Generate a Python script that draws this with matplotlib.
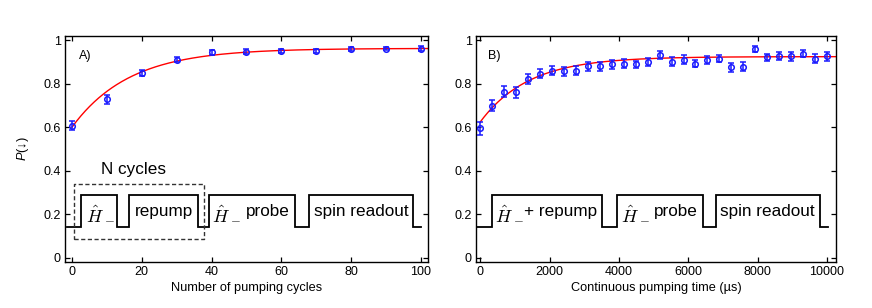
import numpy as np
import matplotlib
matplotlib.use("Agg")
import matplotlib.pyplot as plt

plt.rcParams['font.family'] = ['Liberation Sans', 'DejaVu Sans']
plt.rcParams['mathtext.fontset'] = 'custom'
plt.rcParams['mathtext.rm'] = 'Liberation Sans'
plt.rcParams['mathtext.it'] = 'Liberation Sans:italic'

# ---------------- data ----------------
cycles_A = [0, 10, 20, 30, 40, 50, 60, 70, 80, 90, 100]
P_A = [0.608, 0.728, 0.850, 0.910, 0.944, 0.947, 0.950, 0.952, 0.960, 0.962, 0.962]
err_A = [0.02, 0.02, 0.015, 0.012, 0.01, 0.012, 0.01, 0.01, 0.01, 0.008, 0.01]
fit_A = dict(y0=0.600, yinf=0.963, tau=16.5)

time_B = list(np.linspace(0, 10000, 30))
P_B = [0.595, 0.699, 0.763, 0.760, 0.823, 0.847, 0.860, 0.858, 0.860, 0.881,
       0.881, 0.890, 0.893, 0.889, 0.901, 0.931, 0.901, 0.911, 0.893, 0.910,
       0.916, 0.875, 0.878, 0.959, 0.921, 0.928, 0.927, 0.939, 0.915, 0.927]
err_B = [0.03, 0.025, 0.025, 0.025, 0.022, 0.022, 0.02, 0.02, 0.02, 0.02,
         0.02, 0.02, 0.02, 0.018, 0.018, 0.018, 0.02, 0.02, 0.018, 0.02,
         0.018, 0.02, 0.02, 0.015, 0.018, 0.018, 0.02, 0.018, 0.02, 0.02]
fit_B = dict(y0=0.625, yinf=0.925, tau=1400)

yticks = [0, 0.2, 0.4, 0.6, 0.8, 1]
ytick_labels = ['0', '0.2', '0.4', '0.6', '0.8', '1']
xticks_A = [0, 20, 40, 60, 80, 100]
xticks_B = [0, 2000, 4000, 6000, 8000, 10000]

# pulse sequences: edges of the step waveform
pulse_A = [-1.3, 2.7, 12.9, 16.3, 36.1, 39.3, 63.9, 68.0, 97.8, 100.0]
pulse_B = [-106, 327, 3523, 3937, 6430, 6805, 9808, 10029]
pulse_lo, pulse_hi = 0.14, 0.29

# ---------------- figure ----------------
fig = plt.figure(figsize=(8.72, 3.08), dpi=100)
axA = fig.add_axes([0.0745, 0.1494, 0.4163, 0.7338])
axB = fig.add_axes([0.5459, 0.1494, 0.4128, 0.7338])


def pulse_line(ax, edges):
    xs, ys = [edges[0]], [pulse_lo]
    level = pulse_lo
    for e in edges[1:-1]:
        xs += [e, e]
        new = pulse_hi if level == pulse_lo else pulse_lo
        ys += [level, new]
        level = new
    xs.append(edges[-1])
    ys.append(level)
    ax.plot(xs, ys, color='black', lw=1.3, solid_joinstyle='miter')


def fitcurve(x, p):
    x = np.asarray(x, dtype=float)
    return p['yinf'] - (p['yinf'] - p['y0']) * np.exp(-x / p['tau'])


for ax, x, y, e, fit, xmax, xt in [
        (axA, cycles_A, P_A, err_A, fit_A, 102, xticks_A),
        (axB, time_B, P_B, err_B, fit_B, 10260, xticks_B)]:
    xf = np.linspace(0, xmax, 400)
    ax.plot(xf, fitcurve(xf, fit), color='red', lw=1.0, zorder=2)
    ax.errorbar(x, y, yerr=e, fmt='o', mfc='none', mec='#1a1aff', ms=4,
                mew=1.1, ecolor='#1a1aff', elinewidth=1.1, capsize=2.2,
                capthick=1.1, zorder=3)
    ax.set_ylim(-0.02, 1.02)
    ax.set_yticks(yticks)
    ax.set_yticklabels(ytick_labels)
    ax.set_xticks(xt)
    ax.tick_params(direction='in', length=3.5, width=0.9, top=True,
                   right=True, labelsize=9, pad=3)
    for s in ax.spines.values():
        s.set_linewidth(1.0)

axA.set_xlim(-2, 102)
axB.set_xlim(-125, 10260)

axA.set_xlabel('Number of pumping cycles', fontsize=9.2, labelpad=3)
axB.set_xlabel('Continuous pumping time (\u00b5s)', fontsize=9.2, labelpad=3)
axA.set_ylabel('$P$(\u2193)', fontsize=9.2, labelpad=9)

axA.text(2, 0.93, 'A)', fontsize=9, va='center', ha='left')
axB.text(212, 0.93, 'B)', fontsize=9, va='center', ha='left')

# pulse diagrams
pulse_line(axA, pulse_A)
pulse_line(axB, pulse_B)

axA.plot([0.5, 37.8, 37.8, 0.5, 0.5], [0.087, 0.087, 0.339, 0.339, 0.087],
         color='#333333', lw=1.0, ls=(0, (3, 1.8)))
axA.text(8.4, 0.405, 'N cycles', fontsize=12.3, va='center', ha='left')

txt = 12.3
hs = 13
axA.text(3.9, 0.203, r'$\hat{H}_-$', fontsize=hs, va='center', ha='left',
         math_fontfamily='cm')
axA.text(17.9, 0.213, 'repump', fontsize=txt, va='center', ha='left')
axA.text(40.2, 0.203, r'$\hat{H}_-$', fontsize=hs, va='center', ha='left',
         math_fontfamily='cm')
axA.text(49.8, 0.213, 'probe', fontsize=txt, va='center', ha='left')
axA.text(69.4, 0.213, 'spin readout', fontsize=txt, va='center', ha='left')

axB.text(420, 0.203, r'$\hat{H}_-$', fontsize=hs, va='center', ha='left',
         math_fontfamily='cm')
axB.text(1270, 0.213, '+ repump', fontsize=txt, va='center', ha='left')
axB.text(4060, 0.203, r'$\hat{H}_-$', fontsize=hs, va='center', ha='left',
         math_fontfamily='cm')
axB.text(4995, 0.213, 'probe', fontsize=txt, va='center', ha='left')
axB.text(6920, 0.213, 'spin readout', fontsize=txt, va='center', ha='left')

fig.savefig('out.png', dpi=100)
